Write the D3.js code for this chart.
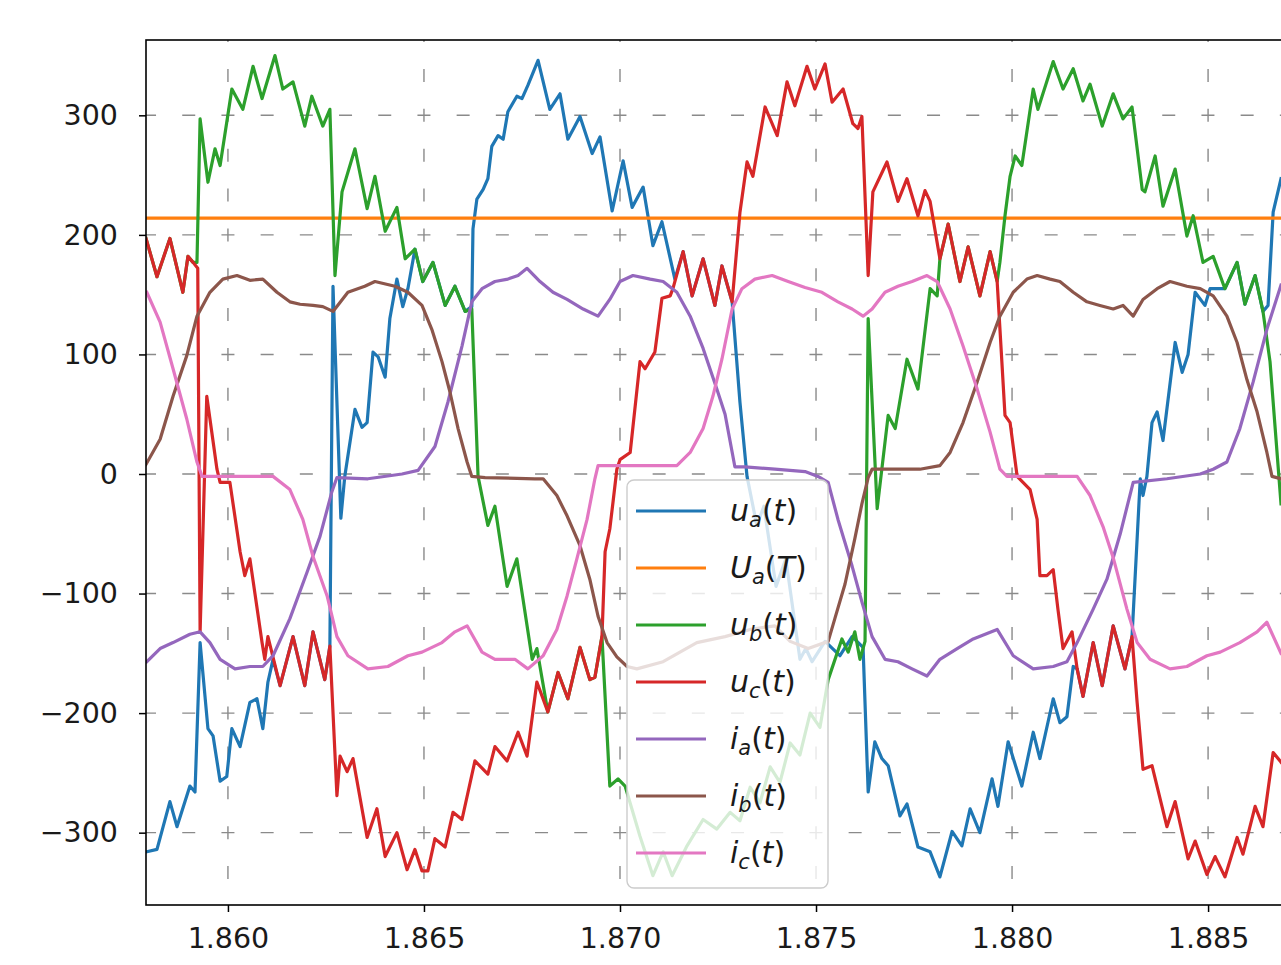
<!DOCTYPE html>
<html>
<head>
<meta charset="utf-8">
<script src="https://cdn.jsdelivr.net/npm/d3@7"></script>
<style>
  body { margin: 0; background: #fff; }
  svg { display: block; font-family: "DejaVu Sans", sans-serif; }
</style>
</head>
<body>
<div id="chart"></div>
<script>
// values: [time (s), value]
var uaPts = [[1.85793,-316],[1.85819,-314],[1.85852,-274],[1.85870,-295],[1.85903,-261],[1.85916,-266],[1.85929,-141],[1.85949,-213],[1.85962,-219],[1.85980,-257],[1.85997,-253],[1.86010,-213],[1.86031,-228],[1.86056,-191],[1.86074,-188],[1.86089,-213],[1.86102,-174],[1.86115,-155],[1.86133,-177],[1.86166,-136],[1.86196,-177],[1.86217,-132],[1.86247,-172],[1.86260,-144],[1.86268,157],[1.86288,-37],[1.86298,-2],[1.86324,54],[1.86342,39],[1.86355,43],[1.86370,102],[1.86383,98],[1.86401,81],[1.86413,130],[1.86431,163],[1.86446,140],[1.86459,155],[1.86477,188],[1.86497,161],[1.86523,177],[1.86554,141],[1.86579,157],[1.86605,136],[1.86622,140],[1.86625,205],[1.86635,230],[1.86651,238],[1.86663,247],[1.86673,274],[1.86689,283],[1.86702,280],[1.86714,303],[1.86737,316],[1.86750,314],[1.86765,325],[1.86791,346],[1.86821,305],[1.86847,318],[1.86867,280],[1.86898,299],[1.86929,268],[1.86949,282],[1.86980,220],[1.87008,262],[1.87031,223],[1.87059,240],[1.87084,191],[1.87107,211],[1.87140,163],[1.87161,186],[1.87184,149],[1.87212,180],[1.87242,141],[1.87260,174],[1.87286,144],[1.87306,60],[1.87324,-2],[1.87349,-43],[1.87367,-27],[1.87398,-94],[1.87423,-71],[1.87459,-155],[1.87474,-146],[1.87490,-157],[1.87523,-140],[1.87561,-152],[1.87592,-136],[1.87620,-145],[1.87633,-266],[1.87650,-224],[1.87668,-238],[1.87684,-244],[1.87714,-286],[1.87732,-276],[1.87760,-312],[1.87791,-316],[1.87816,-337],[1.87847,-299],[1.87872,-311],[1.87893,-280],[1.87918,-300],[1.87949,-255],[1.87964,-278],[1.87990,-224],[1.88025,-261],[1.88054,-216],[1.88071,-238],[1.88105,-188],[1.88122,-208],[1.88140,-203],[1.88156,-161],[1.88166,-163],[1.88181,-186],[1.88207,-141],[1.88230,-177],[1.88258,-127],[1.88288,-163],[1.88306,-136],[1.88327,-4],[1.88334,-18],[1.88344,-2],[1.88357,43],[1.88370,52],[1.88385,28],[1.88416,110],[1.88434,85],[1.88449,100],[1.88467,152],[1.88492,141],[1.88505,155],[1.88543,155],[1.88574,177],[1.88594,142],[1.88620,166],[1.88640,136],[1.88653,141],[1.88666,219],[1.88686,247]];

var UaPts = [[1.85791,214],[1.88686,214]];

var ubPts = [[1.85791,197],[1.85819,165],[1.85852,197],[1.85885,152],[1.85898,182],[1.85911,177],[1.85921,177],[1.85929,297],[1.85949,244],[1.85967,272],[1.85980,258],[1.86010,322],[1.86038,305],[1.86064,341],[1.86087,314],[1.86120,350],[1.86140,322],[1.86166,328],[1.86196,291],[1.86214,316],[1.86242,291],[1.86260,305],[1.86273,166],[1.86291,236],[1.86324,272],[1.86355,222],[1.86375,249],[1.86401,203],[1.86431,223],[1.86452,180],[1.86477,188],[1.86497,161],[1.86523,177],[1.86554,141],[1.86579,157],[1.86605,136],[1.86622,138],[1.86638,-2],[1.86663,-43],[1.86681,-27],[1.86712,-94],[1.86737,-71],[1.86776,-155],[1.86788,-146],[1.86816,-199],[1.86842,-166],[1.86867,-188],[1.86898,-145],[1.86923,-172],[1.86936,-170],[1.86954,-136],[1.86974,-261],[1.86995,-255],[1.87013,-261],[1.87051,-303],[1.87084,-336],[1.87110,-316],[1.87133,-336],[1.87171,-311],[1.87212,-289],[1.87247,-297],[1.87281,-283],[1.87306,-290],[1.87332,-262],[1.87357,-275],[1.87383,-245],[1.87408,-258],[1.87434,-225],[1.87459,-235],[1.87485,-200],[1.87510,-212],[1.87531,-172],[1.87566,-138],[1.87582,-149],[1.87599,-132],[1.87612,-155],[1.87625,-140],[1.87633,130],[1.87656,-29],[1.87684,49],[1.87702,38],[1.87732,96],[1.87760,71],[1.87791,155],[1.87809,149],[1.87816,180],[1.87837,209],[1.87867,161],[1.87888,190],[1.87918,149],[1.87944,186],[1.87962,161],[1.87969,177],[1.87982,216],[1.87995,249],[1.88008,266],[1.88025,258],[1.88054,322],[1.88066,305],[1.88105,345],[1.88130,322],[1.88156,339],[1.88181,312],[1.88199,326],[1.88230,291],[1.88258,318],[1.88283,297],[1.88306,307],[1.88332,238],[1.88339,236],[1.88365,266],[1.88385,224],[1.88416,255],[1.88446,199],[1.88462,216],[1.88487,177],[1.88513,182],[1.88543,155],[1.88574,177],[1.88594,142],[1.88620,166],[1.88640,136],[1.88658,94],[1.88686,-25]];

var ucPts = [[1.85791,197],[1.85819,165],[1.85852,197],[1.85885,152],[1.85898,182],[1.85911,177],[1.85923,172],[1.85929,-132],[1.85946,65],[1.85972,4],[1.85980,-7],[1.86005,-7],[1.86031,-65],[1.86043,-85],[1.86056,-71],[1.86087,-141],[1.86094,-155],[1.86102,-136],[1.86133,-177],[1.86166,-136],[1.86196,-177],[1.86217,-132],[1.86247,-172],[1.86260,-144],[1.86278,-269],[1.86286,-236],[1.86304,-249],[1.86319,-238],[1.86355,-304],[1.86380,-280],[1.86401,-320],[1.86431,-300],[1.86457,-331],[1.86477,-314],[1.86495,-332],[1.86510,-332],[1.86528,-305],[1.86554,-312],[1.86574,-283],[1.86597,-289],[1.86630,-240],[1.86663,-251],[1.86681,-228],[1.86712,-240],[1.86740,-216],[1.86763,-236],[1.86788,-174],[1.86816,-199],[1.86842,-166],[1.86867,-188],[1.86898,-145],[1.86923,-172],[1.86936,-170],[1.86954,-136],[1.86962,-65],[1.86974,-46],[1.86982,-24],[1.86992,4],[1.87000,12],[1.87026,18],[1.87051,94],[1.87064,88],[1.87089,102],[1.87107,147],[1.87128,149],[1.87135,155],[1.87161,186],[1.87184,149],[1.87212,180],[1.87242,141],[1.87260,174],[1.87286,144],[1.87306,219],[1.87324,261],[1.87339,249],[1.87370,307],[1.87401,283],[1.87426,328],[1.87446,308],[1.87477,341],[1.87497,322],[1.87523,343],[1.87541,311],[1.87569,322],[1.87594,293],[1.87607,289],[1.87617,299],[1.87633,166],[1.87645,236],[1.87681,261],[1.87709,228],[1.87732,247],[1.87760,216],[1.87778,237],[1.87791,228],[1.87816,180],[1.87837,209],[1.87867,161],[1.87888,190],[1.87918,149],[1.87944,186],[1.87962,161],[1.87974,94],[1.87982,49],[1.87995,43],[1.88013,-2],[1.88046,-13],[1.88064,-38],[1.88071,-85],[1.88089,-85],[1.88105,-80],[1.88117,-113],[1.88130,-146],[1.88153,-132],[1.88166,-163],[1.88181,-186],[1.88207,-141],[1.88230,-177],[1.88258,-127],[1.88288,-163],[1.88306,-136],[1.88319,-191],[1.88334,-247],[1.88357,-244],[1.88395,-295],[1.88416,-274],[1.88449,-322],[1.88467,-307],[1.88497,-335],[1.88518,-320],[1.88543,-337],[1.88574,-304],[1.88589,-318],[1.88620,-278],[1.88640,-295],[1.88666,-233],[1.88686,-241]];

var iaPts = [[1.85793,-157],[1.85827,-146],[1.85860,-141],[1.85903,-134],[1.85929,-132],[1.85954,-141],[1.85980,-155],[1.86018,-163],[1.86056,-161],[1.86089,-161],[1.86115,-152],[1.86158,-121],[1.86202,-82],[1.86235,-52],[1.86265,-15],[1.86278,-3],[1.86357,-4],[1.86444,0],[1.86485,3],[1.86528,23],[1.86561,60],[1.86597,107],[1.86622,144],[1.86648,155],[1.86681,161],[1.86714,163],[1.86740,166],[1.86763,172],[1.86796,161],[1.86829,152],[1.86865,146],[1.86906,138],[1.86944,132],[1.86974,146],[1.87000,161],[1.87033,166],[1.87077,163],[1.87110,161],[1.87145,152],[1.87179,132],[1.87212,105],[1.87247,71],[1.87268,50],[1.87293,6],[1.87319,6],[1.87395,4],[1.87472,2],[1.87505,-2],[1.87531,-7],[1.87556,-38],[1.87592,-77],[1.87617,-107],[1.87643,-136],[1.87676,-155],[1.87709,-157],[1.87745,-163],[1.87783,-169],[1.87816,-155],[1.87860,-146],[1.87901,-138],[1.87962,-130],[1.88003,-152],[1.88054,-163],[1.88105,-161],[1.88140,-157],[1.88166,-141],[1.88207,-113],[1.88242,-88],[1.88276,-50],[1.88309,-7],[1.88395,-4],[1.88480,0],[1.88513,4],[1.88548,10],[1.88581,38],[1.88615,77],[1.88650,121],[1.88686,158]];

var ibPts = [[1.85791,8],[1.85827,29],[1.85860,65],[1.85895,99],[1.85921,132],[1.85954,152],[1.85987,163],[1.86023,166],[1.86056,162],[1.86089,163],[1.86125,152],[1.86158,144],[1.86184,142],[1.86217,141],[1.86242,140],[1.86268,136],[1.86306,152],[1.86349,157],[1.86375,161],[1.86426,157],[1.86459,152],[1.86495,141],[1.86520,121],[1.86546,94],[1.86566,69],[1.86587,38],[1.86610,10],[1.86622,-2],[1.86656,-3],[1.86783,-4],[1.86804,-4],[1.86839,-18],[1.86865,-35],[1.86898,-60],[1.86923,-88],[1.86944,-119],[1.86967,-141],[1.86992,-153],[1.87018,-161],[1.87043,-163],[1.87110,-157],[1.87196,-141],[1.87268,-136],[1.87332,-130],[1.87395,-127],[1.87434,-140],[1.87480,-146],[1.87531,-140],[1.87548,-121],[1.87574,-92],[1.87599,-54],[1.87617,-25],[1.87633,-3],[1.87643,4],[1.87765,4],[1.87816,7],[1.87842,18],[1.87875,43],[1.87911,77],[1.87944,110],[1.87969,132],[1.88003,152],[1.88038,163],[1.88064,166],[1.88097,163],[1.88122,161],[1.88156,152],[1.88191,144],[1.88224,141],[1.88258,138],[1.88283,141],[1.88309,132],[1.88334,146],[1.88370,155],[1.88403,161],[1.88446,157],[1.88480,155],[1.88513,149],[1.88548,132],[1.88574,110],[1.88599,79],[1.88625,52],[1.88650,18],[1.88663,-2],[1.88686,-4]];

var icPts = [[1.85793,152],[1.85827,127],[1.85860,88],[1.85895,46],[1.85921,10],[1.85934,-2],[1.86031,-2],[1.86115,-2],[1.86158,-13],[1.86191,-38],[1.86217,-69],[1.86253,-102],[1.86278,-136],[1.86306,-152],[1.86357,-163],[1.86408,-161],[1.86459,-152],[1.86495,-149],[1.86546,-141],[1.86579,-132],[1.86610,-127],[1.86648,-149],[1.86681,-155],[1.86732,-155],[1.86765,-163],[1.86804,-152],[1.86839,-130],[1.86865,-102],[1.86890,-71],[1.86916,-38],[1.86936,-4],[1.86944,7],[1.87145,7],[1.87179,18],[1.87212,38],[1.87237,65],[1.87260,96],[1.87286,138],[1.87311,155],[1.87344,163],[1.87388,166],[1.87429,161],[1.87472,156],[1.87515,152],[1.87556,144],[1.87592,138],[1.87620,132],[1.87643,138],[1.87676,152],[1.87709,157],[1.87745,161],[1.87783,166],[1.87809,161],[1.87842,138],[1.87875,107],[1.87911,71],[1.87944,35],[1.87969,4],[1.87987,-2],[1.88166,-2],[1.88199,-18],[1.88232,-44],[1.88258,-70],[1.88293,-113],[1.88319,-141],[1.88352,-155],[1.88403,-163],[1.88446,-161],[1.88497,-152],[1.88531,-149],[1.88581,-141],[1.88625,-132],[1.88650,-124],[1.88686,-150]];

var xTicks = [1.860, 1.865, 1.870, 1.875, 1.880, 1.885];
var yTicks = [-300, -200, -100, 0, 100, 200, 300];
var xDomain = [1.85791, 1.88686];
var yDomain = [-360.5, 363];

// label parts: letter, subscript, argument
var legendLabels = [["u","a","t"],["U","a","T"],["u","b","t"],["u","c","t"],["i","a","t"],["i","b","t"],["i","c","t"]];
var colors = ["#1f77b4","#ff7f0e","#2ca02c","#d62728","#9467bd","#8c564b","#e377c2"];
var allPts = [uaPts, UaPts, ubPts, ucPts, iaPts, ibPts, icPts];

var W = 1281, H = 965;
var pL = 146, pT = 40, pB = 905, pR = 1281;

var svg = d3.select("#chart").append("svg").attr("width", W).attr("height", H);

var x = d3.scaleLinear().domain(xDomain).range([pL, pR]);
var y = d3.scaleLinear().domain(yDomain).range([pB, pT]);

svg.append("defs").append("clipPath").attr("id", "plotclip")
  .append("rect").attr("x", pL).attr("y", pT).attr("width", pR - pL + 10).attr("height", pB - pT);

// dashed grid, dashes centred on tick positions
var grid = svg.append("g").attr("clip-path", "url(#plotclip)");
var xPer = 39.2, yPer = (y(0) - y(100)) / 3;
xTicks.forEach(function(t) {
  grid.append("line")
    .attr("x1", x(t)).attr("x2", x(t))
    .attr("y1", y(-300) + 6.5 + 3 * yPer).attr("y2", pT - 10)
    .attr("stroke", "#8a8a8a").attr("stroke-width", 1.4)
    .attr("stroke-dasharray", "13," + (yPer - 13));
});
yTicks.forEach(function(v) {
  grid.append("line")
    .attr("x1", x(1.860) - 6.5 - 3 * xPer).attr("x2", pR + 20)
    .attr("y1", y(v)).attr("y2", y(v))
    .attr("stroke", "#8a8a8a").attr("stroke-width", 1.4)
    .attr("stroke-dasharray", "13," + (xPer - 13));
});

// series
var line = d3.line().x(function(d) { return x(d[0]); }).y(function(d) { return y(d[1]); });
var plot = svg.append("g").attr("clip-path", "url(#plotclip)");
allPts.forEach(function(pts, i) {
  plot.append("path").datum(pts)
    .attr("d", line)
    .attr("fill", "none")
    .attr("stroke", colors[i])
    .attr("stroke-width", 3.2)
    .attr("stroke-linejoin", "round")
    .attr("stroke-linecap", "square");
});

// frame (right side falls outside the picture)
svg.append("rect").attr("x", pL).attr("y", pT)
  .attr("width", pR - pL + 40).attr("height", pB - pT)
  .attr("fill", "none").attr("stroke", "#000").attr("stroke-width", 1.6);

// axes
var xAxis = d3.axisBottom(x).tickValues(xTicks).tickFormat(d3.format(".3f")).tickSize(7).tickPadding(16);
var yAxis = d3.axisLeft(y).tickValues(yTicks).tickFormat(function(d) { return d < 0 ? "\u2212" + Math.abs(d) : d; }).tickSize(7).tickPadding(21);

var gx = svg.append("g").attr("transform", "translate(0," + pB + ")").call(xAxis);
var gy = svg.append("g").attr("transform", "translate(" + pL + ",0)").call(yAxis);
[gx, gy].forEach(function(g) {
  g.select(".domain").remove();
  g.selectAll(".tick line").attr("stroke", "#000").attr("stroke-width", 1.5);
  g.selectAll(".tick text").attr("fill", "#1a1a1a")
    .style("font-family", "'DejaVu Sans', sans-serif").style("font-size", "28.5px");
});

// legend
var lg = svg.append("g");
lg.append("rect").attr("x", 627).attr("y", 480).attr("width", 201).attr("height", 408)
  .attr("rx", 7).attr("fill", "#fff").attr("fill-opacity", 0.8)
  .attr("stroke", "#cccccc").attr("stroke-width", 1.4);

legendLabels.forEach(function(lab, i) {
  var ly = 511 + i * 57;
  lg.append("line").attr("x1", 636).attr("x2", 706).attr("y1", ly).attr("y2", ly)
    .attr("stroke", colors[i]).attr("stroke-width", 3.2);
  var t = lg.append("text").attr("x", 730).attr("y", ly + 10)
    .style("font-family", "'DejaVu Sans', sans-serif").style("font-size", "30px").attr("fill", "#1a1a1a");
  t.append("tspan").attr("font-style", "italic").text(lab[0]);
  t.append("tspan").attr("font-style", "italic").attr("font-size", "21px").attr("dy", 6).text(lab[1]);
  t.append("tspan").attr("dy", -6).text("(");
  t.append("tspan").attr("font-style", "italic").text(lab[2]);
  t.append("tspan").text(")");
});
</script>
</body>
</html>
